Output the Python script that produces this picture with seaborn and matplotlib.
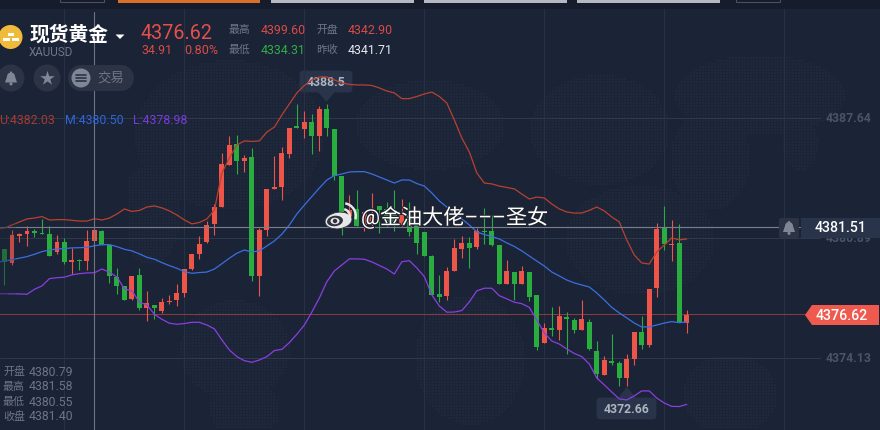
import numpy as np
import pandas as pd
import seaborn as sns
import matplotlib.pyplot as plt
from matplotlib.patches import Circle, Ellipse, FancyBboxPatch, Polygon, Rectangle, Wedge
import matplotlib.patheffects as pe

# candle values, one entry per bar (the first bar sits just off the left edge)
opens = [4379.60,
         4380.29, 4379.50, 4381.04, 4381.13, 4381.28, 4381.20, 4381.13, 4380.14, 4380.68, 4379.56,
         4379.67, 4379.61, 4380.74, 4381.30, 4380.51, 4378.71, 4378.21, 4377.48, 4378.83, 4376.97,
         4377.14, 4376.80, 4377.31, 4377.42, 4377.81, 4379.16, 4380.01, 4380.68, 4381.70, 4382.65,
         4385.02, 4386.20, 4385.24, 4385.47, 4378.77, 4381.36, 4383.67, 4383.78, 4385.63, 4387.21,
         4387.04, 4387.44, 4386.65, 4388.17, 4387.04, 4384.40, 4381.92, 4382.54, 4381.64, 4381.64,
         4382.71, 4382.54, 4382.48, 4381.64, 4382.20, 4381.64, 4381.25, 4379.89, 4377.76, 4377.64,
         4379.05, 4380.29, 4380.63, 4380.40, 4381.30, 4381.30, 4380.51, 4378.32, 4378.99, 4378.32,
         4378.99, 4377.70, 4375.00, 4375.84, 4375.73, 4376.46, 4376.29, 4375.73, 4376.18, 4374.55,
         4373.20, 4373.99, 4373.87, 4373.03, 4374.10, 4375.62, 4374.89, 4378.09, 4381.47, 4380.53,
         4380.63, 4376.12]
closes = [4380.29,
          4379.56, 4381.08, 4381.15, 4381.30, 4381.20, 4381.15, 4379.89, 4380.68, 4379.56, 4379.67,
          4379.61, 4380.74, 4381.36, 4380.51, 4378.77, 4378.21, 4377.42, 4378.77, 4376.97, 4377.25,
          4376.97, 4377.31, 4377.36, 4377.81, 4379.16, 4380.01, 4380.57, 4381.64, 4382.65, 4385.07,
          4386.14, 4385.24, 4385.41, 4378.77, 4381.36, 4383.67, 4383.78, 4385.69, 4387.10, 4387.10,
          4387.44, 4386.65, 4388.17, 4387.10, 4384.40, 4382.03, 4382.48, 4381.58, 4382.37, 4382.26,
          4382.48, 4381.81, 4381.64, 4382.20, 4381.25, 4380.63, 4379.89, 4377.70, 4377.59, 4379.05,
          4380.35, 4380.63, 4380.35, 4381.30, 4381.25, 4380.51, 4378.32, 4379.05, 4378.32, 4379.05,
          4377.59, 4374.77, 4375.84, 4375.73, 4376.52, 4376.35, 4375.73, 4376.35, 4374.66, 4373.25,
          4374.04, 4373.87, 4373.03, 4374.10, 4375.62, 4374.89, 4378.04, 4381.41, 4380.57, 4380.59,
          4376.18, 4376.57]
highs = [4380.29,
         4380.29, 4381.36, 4381.21, 4381.58, 4381.43, 4381.98, 4381.58, 4381.08, 4380.91, 4380.35,
         4379.73, 4381.36, 4381.47, 4381.36, 4380.51, 4379.22, 4378.21, 4378.77, 4379.22, 4377.93,
         4377.14, 4377.53, 4377.70, 4378.32, 4379.16, 4380.01, 4381.02, 4381.86, 4382.82, 4385.69,
         4386.65, 4386.70, 4385.58, 4385.97, 4381.47, 4383.67, 4385.52, 4386.03, 4387.10, 4388.45,
         4388.05, 4387.89, 4388.34, 4388.45, 4387.04, 4384.40, 4383.33, 4383.61, 4382.37, 4383.44,
         4382.71, 4382.93, 4383.61, 4383.10, 4382.93, 4381.64, 4381.25, 4379.95, 4378.83, 4379.28,
         4380.85, 4381.02, 4380.96, 4381.47, 4382.60, 4382.20, 4380.51, 4379.67, 4378.99, 4379.33,
         4378.99, 4377.70, 4376.12, 4377.03, 4377.08, 4376.74, 4376.41, 4377.42, 4376.35, 4375.11,
         4374.27, 4375.51, 4373.99, 4374.38, 4375.62, 4376.52, 4378.04, 4381.75, 4382.71, 4381.92,
         4381.70, 4376.86]
lows = [4379.60,
        4378.26, 4379.39, 4380.68, 4380.46, 4380.96, 4381.15, 4379.89, 4380.01, 4379.44, 4378.88,
        4379.11, 4379.11, 4380.74, 4380.51, 4378.38, 4377.76, 4377.42, 4377.42, 4376.86, 4376.24,
        4376.35, 4376.69, 4377.19, 4377.08, 4377.59, 4379.11, 4379.73, 4380.63, 4381.08, 4382.65,
        4385.02, 4384.51, 4384.62, 4378.49, 4377.64, 4381.02, 4383.67, 4383.05, 4385.41, 4387.10,
        4386.53, 4385.63, 4385.80, 4386.65, 4384.17, 4381.08, 4381.81, 4381.58, 4381.30, 4381.58,
        4381.19, 4381.53, 4381.30, 4381.58, 4381.02, 4380.01, 4379.89, 4377.70, 4377.31, 4377.42,
        4379.05, 4379.78, 4379.22, 4380.29, 4380.57, 4380.46, 4378.32, 4378.32, 4377.42, 4378.32,
        4377.36, 4374.60, 4375.00, 4375.39, 4375.17, 4374.38, 4375.56, 4375.73, 4374.60, 4372.97,
        4373.20, 4373.76, 4372.58, 4372.58, 4373.76, 4374.66, 4374.77, 4377.59, 4380.23, 4379.61,
        4376.18, 4375.56]

# bollinger bands
upper = [4381.41,
         4381.47, 4381.64, 4381.81, 4381.98, 4382.03, 4382.11, 4381.92, 4381.94, 4381.94, 4381.90,
         4381.86, 4381.86, 4381.99, 4381.92, 4382.03, 4382.26, 4382.54, 4382.40, 4382.46, 4382.65,
         4382.71, 4382.60, 4382.43, 4382.20, 4381.92, 4381.70, 4381.78, 4381.98, 4382.48, 4384.57,
         4385.41, 4386.14, 4386.37, 4386.34, 4386.37, 4386.87, 4387.15, 4387.83, 4388.45, 4389.07,
         4389.49, 4389.80, 4389.97, 4389.97, 4389.80, 4389.63, 4389.55, 4389.52, 4389.52, 4389.49,
         4389.35, 4389.18, 4389.07, 4388.75, 4388.75, 4388.87, 4389.01, 4389.12, 4388.87, 4388.50,
         4387.55, 4386.53, 4385.75, 4384.57, 4384.00, 4383.95, 4383.83, 4383.75, 4383.67, 4383.38,
         4383.10, 4383.21, 4383.16, 4382.82, 4382.54, 4382.37, 4382.31, 4382.31, 4382.46, 4382.65,
         4382.43, 4382.09, 4381.81, 4380.80, 4379.95, 4379.50, 4379.44, 4380.12, 4380.51, 4380.91,
         4380.80, 4380.85]
middle = [4379.55,
          4379.60, 4379.69, 4379.77, 4379.86, 4379.99, 4380.14, 4380.23, 4380.29, 4380.31, 4380.35,
          4380.36, 4380.38, 4380.47, 4380.53, 4380.53, 4380.42, 4380.27, 4380.18, 4380.01, 4379.82,
          4379.71, 4379.52, 4379.35, 4379.20, 4379.01, 4378.92, 4378.96, 4378.99, 4379.16, 4379.46,
          4379.77, 4380.05, 4380.23, 4380.12, 4380.18, 4380.46, 4380.74, 4381.12, 4381.64, 4382.26,
          4382.76, 4383.24, 4383.72, 4384.17, 4384.42, 4384.51, 4384.62, 4384.64, 4384.64, 4384.51,
          4384.34, 4384.17, 4384.00, 4384.17, 4384.17, 4383.97, 4383.83, 4383.44, 4382.99, 4382.65,
          4382.31, 4381.98, 4381.64, 4381.25, 4381.10, 4380.99, 4380.85, 4380.63, 4380.43, 4380.18,
          4379.89, 4379.61, 4379.33, 4378.99, 4378.77, 4378.54, 4378.38, 4378.26, 4378.15, 4377.81,
          4377.42, 4377.00, 4376.69, 4376.41, 4376.12, 4375.90, 4375.90, 4376.01, 4376.12, 4376.20,
          4376.14, 4376.18]
lower = [4377.77,
         4377.77, 4377.76, 4377.76, 4377.74, 4378.02, 4378.21, 4378.62, 4378.67, 4378.70, 4378.83,
         4378.90, 4378.94, 4378.95, 4379.16, 4378.98, 4378.71, 4378.04, 4377.93, 4377.29, 4377.14,
         4376.61, 4376.33, 4376.11, 4376.05, 4376.09, 4376.16, 4376.16, 4376.01, 4375.79, 4375.17,
         4374.60, 4374.23, 4374.00, 4373.91, 4374.04, 4374.23, 4374.57, 4374.64, 4375.02, 4375.49,
         4376.01, 4376.74, 4377.53, 4378.45, 4379.05, 4379.39, 4379.73, 4379.73, 4379.71, 4379.56,
         4379.36, 4379.16, 4378.88, 4379.57, 4379.63, 4379.22, 4378.73, 4377.70, 4377.08, 4376.73,
         4376.74, 4376.82, 4377.31, 4377.93, 4378.08, 4378.08, 4377.66, 4377.48, 4377.29, 4377.21,
         4377.00, 4376.29, 4375.56, 4375.11, 4374.94, 4374.66, 4374.41, 4374.23, 4373.82, 4373.03,
         4372.64, 4372.24, 4371.85, 4371.79, 4372.02, 4372.30, 4372.30, 4371.90, 4371.62, 4371.43,
         4371.42, 4371.54]

axis_ticks = [4387.64, 4380.89, 4374.13]
last_price = 4376.62
cross_price = 4381.51
cross_bar = 12
grid_bars = [8, 24, 40, 56, 72, 88, 104]

BG = '#1b2336'
RED = '#ee5549'
GREEN = '#28ad3e'
GRID = '#30384b'
TAG = '#29334a'

sns.set_theme(style='dark', rc={'axes.facecolor': BG, 'figure.facecolor': BG})
plt.rcParams['font.family'] = ['Roboto', 'Noto Sans CJK SC', 'DejaVu Sans']

fig = plt.figure(figsize=(8.8, 4.3), dpi=100)

# back layer in pixel coordinates: dotted map and the max/min tags
back = fig.add_axes([0, 0, 1, 1], zorder=0)
back.set_xlim(0, 880)
back.set_ylim(430, 0)
back.axis('off')

map_blobs = [(230, 135, 95, 75), (150, 215, 30, 50), (235, 350, 55, 50), (245, 410, 35, 30),
             (430, 125, 75, 45), (470, 360, 55, 65), (640, 240, 75, 55), (600, 130, 70, 55),
             (760, 95, 85, 40), (710, 160, 40, 50), (730, 395, 47, 40), (800, 145, 18, 25)]
gx, gy = np.meshgrid(np.arange(130, 860, 3.0), np.arange(58, 430, 3.0))
mask = np.zeros_like(gx, dtype=bool)
for cx, cy, rx, ry in map_blobs:
    mask |= ((gx - cx) / rx) ** 2 + ((gy - cy) / ry) ** 2 < 1
back.scatter(gx[mask], gy[mask], s=1.8, marker='s', color='#20283c', linewidths=0)

back.add_patch(FancyBboxPatch((301, 72), 50, 19, boxstyle='round,pad=0,rounding_size=2', fc=TAG, ec=TAG, lw=2))
back.add_patch(Polygon([(318, 92), (335, 92), (326.5, 102)], fc=TAG, ec='none'))
back.text(326.5, 82.5, '4388.5', color='#aeb4c0', fontsize=8.8, fontweight='bold', ha='center', va='center')
back.add_patch(FancyBboxPatch((598, 399), 57, 19, boxstyle='round,pad=0,rounding_size=2', fc=TAG, ec=TAG, lw=2))
back.add_patch(Polygon([(618, 398), (636, 398), (627, 387)], fc=TAG, ec='none'))
back.text(626.5, 409.5, '4372.66', color='#aeb4c0', fontsize=8.8, fontweight='bold', ha='center', va='center')

# main chart
ax = fig.add_axes([0, 0, 1, 1], zorder=1)
ax.patch.set_alpha(0)
ax.set_xlim(-0.6, 116.78)
ax.set_ylim(4370.10, 4394.30)
ax.axis('off')

df = pd.DataFrame({'open': opens, 'close': closes, 'high': highs, 'low': lows,
                   'upper': upper, 'middle': middle, 'lower': lower})
df['bar'] = df.index - 1
df['up'] = df['close'] >= df['open']

for v in axis_ticks:
    ax.axhline(v, xmin=0, xmax=820 / 880, color=GRID, lw=0.75, zorder=1)
for b in grid_bars:
    ax.axvline(b, color='#283044', lw=0.75, zorder=1)

ax.axhline(last_price, xmin=0, xmax=806 / 880, color='#8b3b40', lw=0.75, zorder=1)

colors = [RED if u else GREEN for u in df['up']]
ax.vlines(df['bar'], df['low'], df['high'], colors=colors, lw=0.8, zorder=2)
ax.bar(df['bar'], (df['close'] - df['open']).abs().clip(lower=0.06), bottom=df[['open', 'close']].min(axis=1),
       width=0.66, color=colors, linewidth=0, zorder=2)

sns.lineplot(data=df, x='bar', y='upper', color='#b8412f', lw=0.9, ax=ax, zorder=3)
sns.lineplot(data=df, x='bar', y='middle', color='#3a6fe0', lw=0.9, ax=ax, zorder=3)
sns.lineplot(data=df, x='bar', y='lower', color='#8a3fe0', lw=0.9, ax=ax, zorder=3)
ax.set_xlim(-0.6, 116.78)
ax.axis('off')

# crosshair
ax.axhline(cross_price, xmin=0, xmax=800 / 880, color='#7a7f8e', lw=0.8, zorder=4)
ax.axvline(cross_bar, ymin=0, ymax=1 - 12 / 430, color='#6f7484', lw=0.8, zorder=4)

yt = ax.get_yaxis_transform()
for v in axis_ticks:
    ax.text(826 / 880, v - 0.03, f'{v:.2f}', transform=yt, color='#4c5365', fontsize=8.8,
            fontweight='bold', ha='left', va='center', zorder=2)

# front layer: header, tags, watermark
top = fig.add_axes([0, 0, 1, 1], zorder=2)
top.patch.set_alpha(0)
top.set_xlim(0, 880)
top.set_ylim(430, 0)
top.axis('off')

# fade over the first bars at the left edge
top.add_patch(Rectangle((0, 212), 8, 90, fc=BG, ec='none', alpha=0.45))
top.add_patch(Rectangle((8, 212), 8, 90, fc=BG, ec='none', alpha=0.2))

top.add_patch(Rectangle((0, 0), 880, 9, fc='#161c2c', ec='none'))
top.add_patch(Rectangle((118, 0), 142, 2.5, fc='#d9702a', ec='none'))
for x0, x1 in [(271, 414), (424, 567), (577, 720)]:
    top.add_patch(Rectangle((x0, 0), x1 - x0, 2.5, fc='#b4b8c0', ec='none'))
for x0, x1 in [(60, 104), (736, 780)]:
    top.add_patch(Rectangle((x0, -2), x1 - x0, 4, fc='none', ec='#4a5060', lw=0.8))

# gold icon
top.add_patch(Circle((10.5, 37), 12, fc='#f0bb3a', ec='none'))
for x0, y0 in [(7.5, 32.5), (3, 37.5), (12, 37.5)]:
    top.add_patch(Rectangle((x0, y0), 6.5, 3.2, fc='white', ec='none'))

top.text(29.5, 35, '现货黄金', color='white', fontsize=14.2, fontweight='bold', va='center', ha='left')
top.add_patch(Polygon([(115.5, 34.5), (124.5, 34.5), (120, 39)], fc='white', ec='none'))
top.text(29, 53, 'XAUUSD', color='#6f7687', fontsize=8.4, va='center', ha='left')

top.text(140.5, 33.5, '4376.62', color='#e4504a', fontsize=14.2, va='center', ha='left')
top.text(141, 50, '34.91', color='#d94c46', fontsize=8.9, va='center', ha='left')
top.text(184, 50, '0.80%', color='#d94c46', fontsize=9.1, va='center', ha='left')

top.text(229, 30, '最高', color='#6f7687', fontsize=7.8, va='center', ha='left')
top.text(261, 30, '4399.60', color='#d94c46', fontsize=8.9, va='center', ha='left')
top.text(316, 30, '开盘', color='#6f7687', fontsize=7.8, va='center', ha='left')
top.text(348, 30, '4342.90', color='#d94c46', fontsize=8.9, va='center', ha='left')
top.text(229, 50, '最低', color='#6f7687', fontsize=7.8, va='center', ha='left')
top.text(261, 50, '4334.31', color='#2fae46', fontsize=8.9, va='center', ha='left')
top.text(316, 50, '昨收', color='#6f7687', fontsize=7.8, va='center', ha='left')
top.text(348, 50, '4341.71', color='#e6e8ee', fontsize=8.9, va='center', ha='left')

# round buttons
BTN = '#2c3345'
GLYPH = '#7f8696'


def bell(axes, cx, cy, scale=1.0):
    axes.add_patch(Circle((cx, cy - 1.5 * scale), 4.0 * scale, fc=GLYPH, ec='none'))
    axes.add_patch(Polygon([(cx - 4 * scale, cy - 1.5 * scale), (cx + 4 * scale, cy - 1.5 * scale),
                            (cx + 6 * scale, cy + 4.5 * scale), (cx - 6 * scale, cy + 4.5 * scale)], fc=GLYPH, ec='none'))
    axes.add_patch(Circle((cx, cy + 5.8 * scale), 1.6 * scale, fc=GLYPH, ec='none'))
    axes.add_patch(Circle((cx, cy - 5.6 * scale), 1.0 * scale, fc=GLYPH, ec='none'))


top.add_patch(Circle((11, 78), 13.5, fc=BTN, ec='none'))
bell(top, 11, 78)
top.add_patch(Circle((47, 78), 13.5, fc=BTN, ec='none'))
top.scatter([47], [77.5], marker='*', s=120, color=GLYPH, linewidths=0)
top.add_patch(Circle((81, 78), 13, fc=BTN, ec='none'))
top.add_patch(Circle((121, 78), 13, fc=BTN, ec='none'))
top.add_patch(Rectangle((81, 65), 40, 26, fc=BTN, ec='none'))
top.add_patch(Circle((81, 78), 9.5, fc=GLYPH, ec='none'))
for dy in [-3, 0, 3]:
    top.plot([76, 86], [78 + dy, 78 + dy], color=BTN, lw=1.2)
top.text(97, 78, '交易', color='#6f7687', fontsize=9.6, va='center', ha='left')

# band legend
top.text(-1, 120.5, 'U:4382.03', color='#a93b30', fontsize=8.9, va='center', ha='left')
top.text(65, 120.5, 'M:4380.50', color='#2f66d8', fontsize=8.9, va='center', ha='left')
top.text(133, 120.5, 'L:4378.98', color='#7a3bd8', fontsize=8.9, va='center', ha='left')

# bar info at the bottom left
for row, (name, val) in enumerate([('开盘', '4380.79'), ('最高', '4381.58'), ('最低', '4380.55'), ('收盘', '4381.40')]):
    top.text(3, 372 + 15 * row, name, color='#6d7484', fontsize=7.9, va='center', ha='left')
    top.text(29, 372 + 15 * row, val, color='#6d7484', fontsize=8.8, va='center', ha='left')

# right side tags
top.add_patch(FancyBboxPatch((779, 218), 20, 20, boxstyle='round,pad=0,rounding_size=2', fc=BTN, ec='none'))
bell(top, 789, 227.5)
top.add_patch(Rectangle((801, 218), 79, 20, fc=TAG, ec='none'))
top.text(841, 228, f'{cross_price:.2f}', color='white', fontsize=10.2, fontweight='medium', ha='center', va='center')
top.add_patch(Polygon([(805, 315), (812, 305), (879, 305), (879, 325), (812, 325)], fc='#ee5a4e', ec='none'))
top.text(841.5, 315.5, f'{last_price:.2f}', color='white', fontsize=10.2, fontweight='medium', ha='center', va='center')

# watermark
halo = [pe.withStroke(linewidth=1.6, foreground='#202530')]
top.text(361, 217, '@金油大佬–––圣女', color='white', fontsize=15.2, ha='left', va='center', path_effects=halo)
top.add_patch(Ellipse((338.5, 220.5), 27, 16.5, angle=-8, fc='#e8e8e8', ec='#303540', lw=0.6))
top.add_patch(Ellipse((335, 221), 16, 10.5, angle=-8, fc='#303540', ec='none'))
top.add_patch(Ellipse((335, 221), 9, 6.5, fc='#e8e8e8', ec='none'))
top.add_patch(Circle((335, 221), 2.2, fc='#303540', ec='none'))
top.add_patch(Wedge((343, 216), 8, -80, 15, width=2.4, fc='#e8e8e8', ec='none'))
top.add_patch(Wedge((343, 216), 14, -80, 15, width=2.4, fc='#e8e8e8', ec='none'))

fig.savefig('out.png', dpi=100)
